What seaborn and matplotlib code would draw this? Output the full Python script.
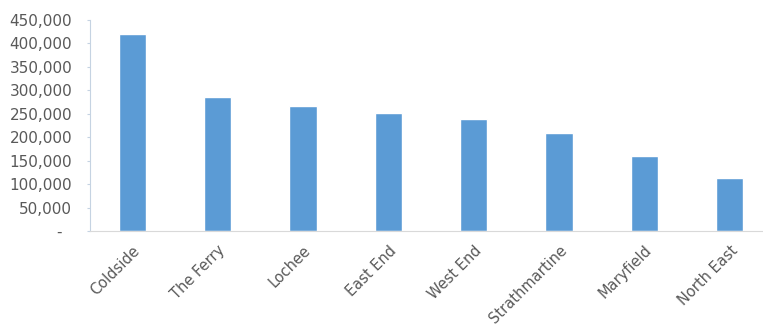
import matplotlib
matplotlib.use("Agg")
import matplotlib.pyplot as plt
import seaborn as sns
import pandas as pd

categories = ["Coldside", "The Ferry", "Lochee", "East End", "West End",
              "Strathmartine", "Maryfield", "North East"]
values = [421000, 285000, 266000, 251000, 238000, 210000, 161000, 114000]
yticks = [0, 50000, 100000, 150000, 200000, 250000, 300000, 350000, 400000, 450000]

df = pd.DataFrame({"ward": categories, "value": values})

sns.set_style("white")
plt.rcParams["font.family"] = ["DejaVu Sans"]

fig = plt.figure(figsize=(7.63, 3.29), dpi=100)
ax = fig.add_axes([89.5 / 763, (329 - 231) / 329, 683 / 763, 211 / 329])

sns.barplot(data=df, x="ward", y="value", color="#5B9BD5", width=0.32,
            saturation=1, ax=ax)

ax.set_ylim(0, 450000)
ax.set_xlim(-0.5, len(categories) - 0.5)
ax.set_yticks(yticks)
ax.set_yticklabels(["-  " if v == 0 else f"{v:,.0f}" for v in yticks],
                   color="#595959", fontsize=11)
ax.set_xticks(range(len(categories)))
ax.set_xticklabels(categories, rotation=45, ha="right", rotation_mode="anchor",
                   color="#595959", fontsize=10.5)
ax.set_xlabel("")
ax.set_ylabel("")

for s in ["top", "right"]:
    ax.spines[s].set_visible(False)
ax.spines["left"].set_color("#C5D3E2")
ax.spines["bottom"].set_color("#D9D9D9")
ax.tick_params(axis="y", left=True, length=2.5, color="#C5D3E2", pad=10)
ax.tick_params(axis="x", bottom=False, pad=5)

fig.savefig("out.png", dpi=100, facecolor="white")
